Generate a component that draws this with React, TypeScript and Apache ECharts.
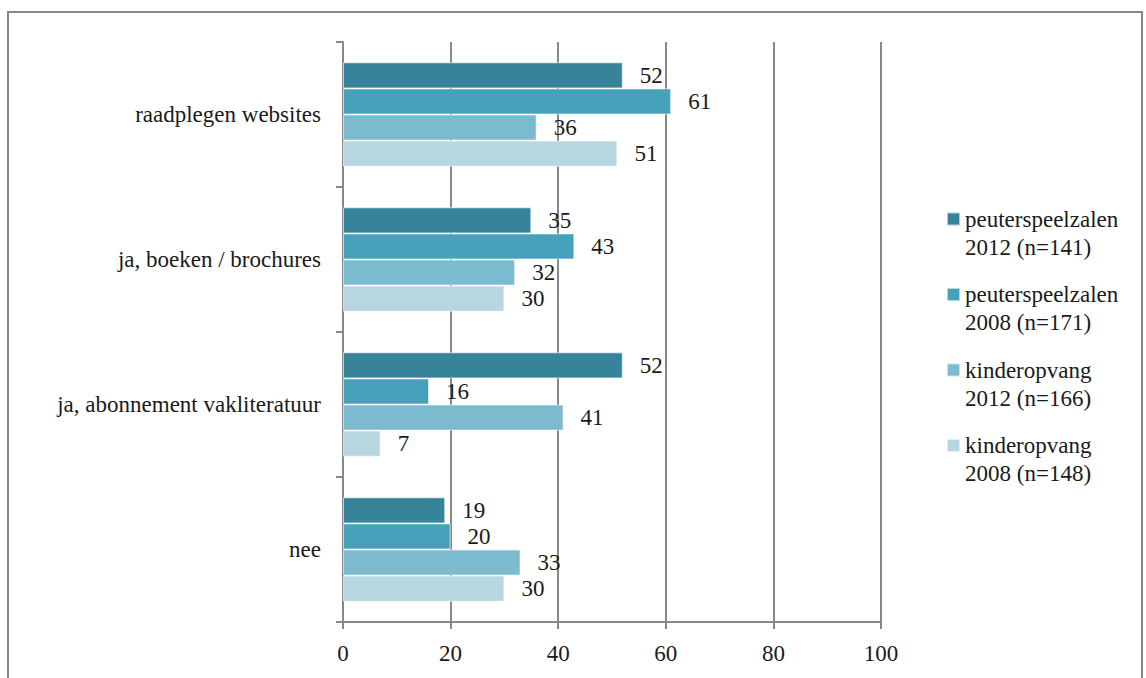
import React, { useEffect, useRef } from "react";
import * as echarts from "echarts";

const categories = ["raadplegen websites", "ja, boeken / brochures", "ja, abonnement vakliteratuur", "nee"];
const seriesNames = ["peuterspeelzalen\n2012 (n=141)", "peuterspeelzalen\n2008 (n=171)", "kinderopvang\n2012 (n=166)", "kinderopvang\n2008 (n=148)"];
const peuter2012 = [52, 35, 52, 19];
const peuter2008 = [61, 43, 16, 20];
const kinder2012 = [36, 32, 41, 33];
const kinder2008 = [51, 30, 7, 30];
const colors = ["#37849A", "#46A2BA", "#7CBAD0", "#B7D6E0"];

export default function App() {
  const ref = useRef<HTMLDivElement>(null);
  useEffect(() => {
    const chart = echarts.init(ref.current!, undefined, { renderer: "svg" });
    const font = "Times New Roman, Liberation Serif, serif";
    const allData = [peuter2012, peuter2008, kinder2012, kinder2008];
    chart.setOption({
      animation: false,
      textStyle: { fontFamily: font },
      grid: { left: 343, right: 265, top: 42, bottom: 56, containLabel: false },
      graphic: [
        { type: "rect", shape: { x: 8, y: 12, width: 1134, height: 680 }, style: { fill: "none", stroke: "#888", lineWidth: 2 } },
      ],
      legend: {
        data: seriesNames,
        orient: "vertical",
        left: 941,
        top: 172,
        itemWidth: 13,
        itemHeight: 13,
        itemGap: -8.5,
        icon: "rect",
        formatter: (name: string) => "\n" + name,
        textStyle: { fontFamily: font, fontSize: 23, color: "#1a1a1a", lineHeight: 28 },
      },
      xAxis: {
        type: "value",
        min: 0,
        max: 100,
        interval: 20,
        axisLine: { show: true, lineStyle: { color: "#888", width: 2 } },
        axisTick: { show: true, length: 7, lineStyle: { color: "#888", width: 2 } },
        splitLine: { show: true, lineStyle: { color: "#888", width: 2 } },
        axisLabel: { fontFamily: font, fontSize: 23, color: "#1a1a1a", margin: 20 },
      },
      yAxis: {
        type: "category",
        data: categories,
        inverse: true,
        axisLine: { show: true, lineStyle: { color: "#888", width: 2 } },
        axisTick: { show: true, length: 7, lineStyle: { color: "#888", width: 2 } },
        axisLabel: { fontFamily: font, fontSize: 23, color: "#1a1a1a", margin: 22 },
      },
      series: seriesNames.map((name, i) => ({
        name,
        type: "bar",
        data: allData[i],
        barGap: "0%",
        barCategoryGap: "28%",
        itemStyle: { color: colors[i], borderColor: "rgba(255,255,255,0.6)", borderWidth: 1 },
        label: { show: true, position: "right", distance: 17, fontFamily: font, fontSize: 23, color: "#1a1a1a" },
      })),
    });
    return () => chart.dispose();
  }, []);
  return <div ref={ref} style={{ width: 1146, height: 678, position: "absolute", left: 0, top: 0 }} />;
}
